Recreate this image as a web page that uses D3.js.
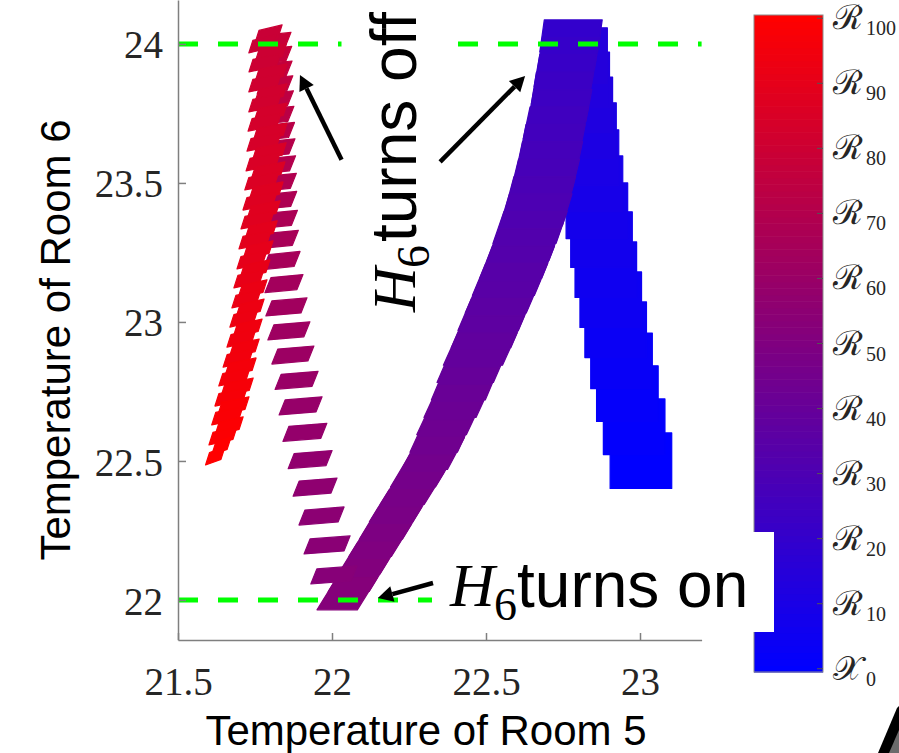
<!DOCTYPE html>
<html>
<head>
<meta charset="utf-8">
<script src="https://cdn.jsdelivr.net/npm/d3@7"></script>
<style>
  body { margin: 0; background: #fff; }
  svg { display: block; }
</style>
</head>
<body>
<svg id="chart" width="899" height="753"></svg>
<script>
// axis ticks
const xTicks = [21.5, 22, 22.5, 23];
const yTicks = [22, 22.5, 23, 23.5, 24];
const barTicks = [0, 10, 20, 30, 40, 50, 60, 70, 80, 90, 100];
const barNames = ["𝒳", "ℛ", "ℛ", "ℛ", "ℛ", "ℛ", "ℛ", "ℛ", "ℛ", "ℛ", "ℛ"];
const barSubs = ["0", "10", "20", "30", "40", "50", "60", "70", "80", "90", "100"];

// switching thresholds for room 6
const thresholds = [22, 24];

// X0 and the first heating steps: 0.2 x 0.2 boxes, centres (room 5, room 6)
const boxK = [0, 1, 2, 3, 4, 5, 6, 7, 8, 9, 10, 11, 12, 13, 14];
const boxX = [23.003, 22.981, 22.959, 22.940, 22.921, 22.905, 22.889, 22.875, 22.860, 22.844, 22.831, 22.823, 22.811, 22.801, 22.794];
const boxY = [22.501, 22.623, 22.742, 22.860, 22.972, 23.080, 23.188, 23.296, 23.400, 23.497, 23.591, 23.688, 23.781, 23.871, 23.958];
const boxSize = 0.2;

// cooling with H6 off: sheared sets along the curved band
const bandK = [20, 21, 22, 23, 24, 25, 26, 27, 28, 29, 30, 31, 32, 33, 34, 35, 36, 37, 38, 39, 40, 41, 42, 43, 44, 45, 46, 47, 48, 49, 50, 51, 52];
const bandX = [22.776, 22.768, 22.758, 22.748, 22.740, 22.727, 22.716, 22.705, 22.692, 22.677, 22.662, 22.643, 22.623, 22.601, 22.578, 22.554, 22.529, 22.506, 22.481, 22.455, 22.432, 22.407, 22.380, 22.354, 22.328, 22.294, 22.260, 22.224, 22.190, 22.156, 22.120, 22.086, 22.049];
const bandY = [24.029, 23.966, 23.904, 23.841, 23.778, 23.716, 23.653, 23.591, 23.528, 23.465, 23.403, 23.340, 23.278, 23.215, 23.153, 23.090, 23.027, 22.965, 22.902, 22.840, 22.777, 22.714, 22.652, 22.589, 22.527, 22.464, 22.401, 22.339, 22.276, 22.214, 22.151, 22.088, 22.022];
const bandW = [0.188, 0.185, 0.185, 0.185, 0.188, 0.190, 0.192, 0.195, 0.198, 0.200, 0.203, 0.205, 0.201, 0.201, 0.201, 0.198, 0.196, 0.193, 0.192, 0.183, 0.175, 0.169, 0.161, 0.154, 0.149, 0.146, 0.143, 0.141, 0.140, 0.138, 0.136, 0.133, 0.131];
const bandH = 0.115;

// heating with H6 on: thin slanted stripes
const stripeK = [53, 54, 55, 56, 57, 58, 59, 60, 61, 62, 63, 64, 65, 66, 67, 68, 69, 70, 71, 72, 73, 74, 75, 76, 77, 78];
const stripeX = [22.006, 21.984, 21.966, 21.945, 21.929, 21.912, 21.898, 21.885, 21.873, 21.860, 21.852, 21.844, 21.836, 21.831, 21.828, 21.826, 21.825, 21.823, 21.821, 21.820, 21.818, 21.817, 21.815, 21.813, 21.812, 21.810];
const stripeY = [22.090, 22.198, 22.302, 22.406, 22.505, 22.603, 22.698, 22.790, 22.881, 22.968, 23.054, 23.138, 23.221, 23.297, 23.369, 23.437, 23.502, 23.565, 23.626, 23.685, 23.743, 23.799, 23.853, 23.906, 23.959, 24.009];
const stripeW = [0.130, 0.130, 0.127, 0.123, 0.123, 0.123, 0.120, 0.120, 0.117, 0.117, 0.114, 0.104, 0.101, 0.100, 0.100, 0.099, 0.099, 0.098, 0.098, 0.097, 0.097, 0.096, 0.096, 0.095, 0.095, 0.094];
const stripeShape = { h: 0.054, shear: 0.0195, tilt: 0.011 };

// second cooling: sets made of two overlapping slanted pieces
const redK = [79, 80, 81, 82, 83, 84, 85, 86, 87, 88, 89, 90, 91, 92, 93, 94, 95, 96, 97, 98, 99, 100];
const redX = [21.784, 21.791, 21.792, 21.792, 21.791, 21.789, 21.786, 21.782, 21.776, 21.768, 21.760, 21.750, 21.740, 21.732, 21.724, 21.716, 21.705, 21.693, 21.682, 21.670, 21.656, 21.631];
const redY = [24.018, 23.950, 23.878, 23.806, 23.737, 23.665, 23.594, 23.525, 23.453, 23.385, 23.313, 23.241, 23.173, 23.101, 23.032, 22.960, 22.888, 22.820, 22.748, 22.680, 22.608, 22.536];
const redW = [0.088, 0.101, 0.104, 0.104, 0.107, 0.110, 0.110, 0.110, 0.110, 0.107, 0.104, 0.097, 0.097, 0.094, 0.091, 0.094, 0.097, 0.101, 0.104, 0.101, 0.091, 0.062];
const redShape = { h: 0.045, shear: 0.013, tilt: 0.02, dx: 0.01, dy: 0.018 };

// annotation arrows [tail, tip] in data units
const arrows = [
  [[22.031, 23.583], [21.896, 23.888]],
  [[22.351, 23.576], [22.627, 23.885]],
  [[22.328, 22.061], [22.149, 22.007]]
];

const svg = d3.select("#chart");
const serif = "'Liberation Serif', 'Times New Roman', serif";
const sans = "'Liberation Sans', Arial, sans-serif";
const axisGray = "#7f7f7f";
const textDark = "#262626";

const x = d3.scaleLinear().domain([21.5, 23.2]).range([178, 701.6]);
const y = d3.scaleLinear().domain([21.856, 24.158]).range([640, 0]);
const color = d3.scaleLinear().domain([0, 100]).range(["#0000ff", "#ff0000"]).interpolate(d3.interpolateRgb);

const pxW = v => x(x.domain()[0] + v) - x.range()[0];
const pxH = v => y.range()[0] - y(y.domain()[0] + v);

// parallelogram in pixels: sx shifts the top edge right, ty lifts the right side
function para(cx, cy, w, h, sx, ty) {
  return [
    [cx - w / 2 - sx / 2, cy + h / 2 + ty / 2],
    [cx + w / 2 - sx / 2, cy + h / 2 - ty / 2],
    [cx + w / 2 + sx / 2, cy - h / 2 - ty / 2],
    [cx - w / 2 + sx / 2, cy - h / 2 + ty / 2]
  ];
}

const sets = [];
boxK.forEach((k, i) => {
  sets.push({ k, p: para(x(boxX[i]), y(boxY[i]), pxW(boxSize), pxH(boxSize), 0, 0) });
});
bandK.forEach((k, i) => {
  const a = Math.max(i - 1, 0), b = Math.min(i + 1, bandK.length - 1);
  const slope = -(x(bandX[b]) - x(bandX[a])) / (y(bandY[b]) - y(bandY[a]));
  const h = pxH(bandH);
  sets.push({ k, p: para(x(bandX[i]), y(bandY[i]), pxW(bandW[i]), h, slope * h, 0) });
});
stripeK.forEach((k, i) => {
  sets.push({ k, p: para(x(stripeX[i]), y(stripeY[i]), pxW(stripeW[i]),
    pxH(stripeShape.h), pxW(stripeShape.shear), pxH(stripeShape.tilt)) });
});
redK.forEach((k, i) => {
  const pw = Math.max(redW[i] - redShape.shear, 0.05);
  [1, -1].forEach(s => {
    sets.push({ k, p: para(x(redX[i] + s * redShape.dx), y(redY[i] + s * redShape.dy), pxW(pw),
      pxH(redShape.h), pxW(redShape.shear), pxH(redShape.tilt)) });
  });
});
sets.sort((a, b) => a.k - b.k);

svg.append("g")
  .selectAll("path")
  .data(sets)
  .join("path")
  .attr("d", d => "M" + d.p.map(q => q.join(",")).join("L") + "Z")
  .attr("fill", d => color(d.k))
  .attr("stroke", d => color(d.k))
  .attr("stroke-width", 1.2)
  .attr("stroke-linejoin", "round");

// green switching lines
svg.append("g")
  .selectAll("line")
  .data(thresholds)
  .join("line")
  .attr("x1", x.range()[0])
  .attr("x2", x.range()[1])
  .attr("y1", d => y(d))
  .attr("y2", d => y(d))
  .attr("stroke", "#00ff00")
  .attr("stroke-width", 5)
  .attr("stroke-dasharray", "20 20");

// axes
const xAxis = svg.append("g")
  .attr("transform", `translate(0,${y.range()[0]})`)
  .call(d3.axisBottom(x).tickValues(xTicks).tickSize(-7).tickSizeOuter(0).tickPadding(27).tickFormat(d3.format("")));
const yAxis = svg.append("g")
  .attr("transform", `translate(${x.range()[0]},0)`)
  .call(d3.axisLeft(y).tickValues(yTicks).tickSize(-8).tickSizeOuter(0).tickPadding(15).tickFormat(d3.format("")));
[xAxis, yAxis].forEach(a => {
  a.select(".domain").attr("stroke", axisGray).attr("stroke-width", 1.5);
  a.selectAll(".tick line").attr("stroke", axisGray).attr("stroke-width", 1.5);
  a.selectAll(".tick text").attr("fill", textDark).style("font-family", serif).style("font-size", "39px");
});
yAxis.selectAll(".tick text").attr("dy", "0.36em");

svg.append("text")
  .attr("x", 426).attr("y", 745)
  .attr("text-anchor", "middle")
  .style("font-family", sans).style("font-size", "42px")
  .text("Temperature of Room 5");
svg.append("text")
  .attr("transform", "translate(70,340) rotate(-90)")
  .attr("text-anchor", "middle")
  .style("font-family", sans).style("font-size", "42px")
  .text("Temperature of Room 6");

// colour bar
const cb = d3.scaleLinear().domain([-0.5, 100.5]).range([672, 15]);
const cbX = 754, cbW = 69;
const cells = d3.range(0, 101);
const bar = svg.append("g");
bar.selectAll("rect")
  .data(cells)
  .join("rect")
  .attr("x", cbX)
  .attr("width", cbW)
  .attr("y", d => cb(d + 0.5))
  .attr("height", d => cb(d - 0.5) - cb(d + 0.5) + 0.6)
  .attr("fill", d => color(d));
bar.append("rect")
  .attr("x", cbX).attr("y", cb(100.5))
  .attr("width", cbW).attr("height", cb(-0.5) - cb(100.5))
  .attr("fill", "none").attr("stroke", "#8c8c8c").attr("stroke-width", 1);
bar.selectAll("line")
  .data(barTicks)
  .join("line")
  .attr("x1", cbX + cbW - 6).attr("x2", cbX + cbW)
  .attr("y1", d => cb(d)).attr("y2", d => cb(d))
  .attr("stroke", "#555").attr("stroke-width", 1);
const lab = bar.selectAll("g.lab")
  .data(barTicks)
  .join("g")
  .attr("class", "lab")
  .attr("transform", d => `translate(833,${cb(d)})`);
lab.append("text")
  .attr("y", 11)
  .style("font-family", "'DejaVu Serif', serif").style("font-size", "34px")
  .attr("fill", textDark)
  .text((d, i) => barNames[i]);
lab.append("text")
  .attr("x", 33).attr("y", 17)
  .style("font-family", serif).style("font-size", "20px")
  .attr("fill", textDark)
  .text((d, i) => barSubs[i]);

// annotation boxes
svg.append("rect").attr("x", 341.5).attr("y", 0).attr("width", 115).attr("height", 320).attr("fill", "#fff");
svg.append("rect").attr("x", 432).attr("y", 532).attr("width", 342).attr("height", 100).attr("fill", "#fff");

// arrows
const ag = svg.append("g");
arrows.forEach(([t, h]) => {
  const x1 = x(t[0]), y1 = y(t[1]), x2 = x(h[0]), y2 = y(h[1]);
  const ang = Math.atan2(y2 - y1, x2 - x1);
  const hl = 15, hw = 8;
  const bx = x2 - hl * Math.cos(ang), by = y2 - hl * Math.sin(ang);
  ag.append("line")
    .attr("x1", x1).attr("y1", y1).attr("x2", bx).attr("y2", by)
    .attr("stroke", "#000").attr("stroke-width", 4.5);
  ag.append("path")
    .attr("d", `M${x2},${y2}L${bx + hw * Math.sin(ang)},${by - hw * Math.cos(ang)}L${bx - hw * Math.sin(ang)},${by + hw * Math.cos(ang)}Z`)
    .attr("fill", "#000");
});

// "H6 turns on"
const on = svg.append("g").attr("transform", "translate(450,606)");
on.append("text").style("font-family", serif).style("font-style", "italic").style("font-size", "62px").text("H");
on.append("text").attr("x", 44).attr("y", 14).style("font-family", serif).style("font-size", "46px").text("6");
on.append("text").attr("x", 67).attr("y", 1).style("font-family", sans).style("font-size", "64px").text("turns on");

// "H6 turns off", rotated
const off = svg.append("g").attr("transform", "translate(415,312) rotate(-90)");
off.append("text").style("font-family", serif).style("font-style", "italic").style("font-size", "62px").text("H");
off.append("text").attr("x", 44).attr("y", 14).style("font-family", serif).style("font-size", "46px").text("6");
off.append("text").attr("x", 70).attr("y", 1).style("font-family", sans).style("font-size", "64px").text("turns off");

// cropped corner of a neighbouring graphic
svg.append("path").attr("d", "M878,753L897,708L899,706L899,753Z").attr("fill", "#000");
svg.append("path").attr("d", "M889,753L899,730L899,753Z").attr("fill", "#6b6b6b");
</script>
</body>
</html>
